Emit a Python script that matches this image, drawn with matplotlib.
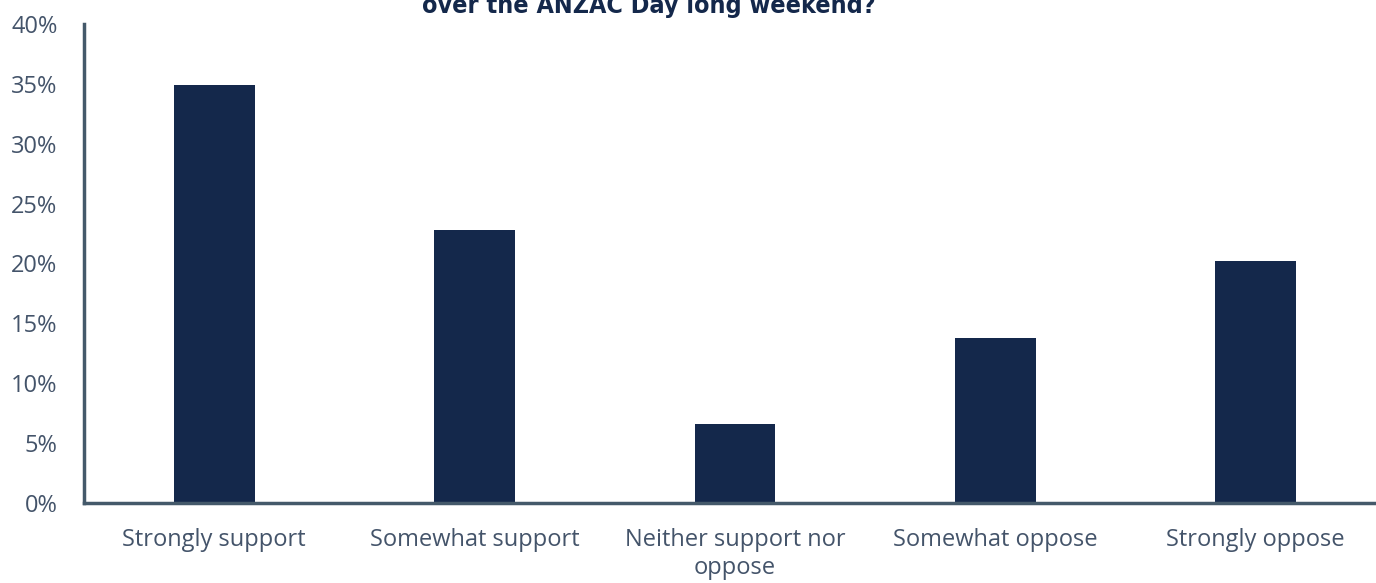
import matplotlib
matplotlib.use("Agg")
import matplotlib.pyplot as plt
from matplotlib.ticker import FuncFormatter

categories = ["Strongly support", "Somewhat support", "Neither support nor\noppose",
              "Somewhat oppose", "Strongly oppose"]
values = [34.9, 22.8, 6.6, 13.8, 20.2]

bar_color = "#14284b"
axis_color = "#44596a"
text_color = "#44546a"

plt.rcParams["font.family"] = ["Open Sans", "DejaVu Sans"]

fig = plt.figure(figsize=(13.76, 5.83), dpi=100)
ax = fig.add_axes([84 / 1376, 80 / 583, 1302 / 1376, 479 / 583])

x = range(len(categories))
ax.bar(x, values, width=0.31, color=bar_color, zorder=2)

ax.set_xlim(-0.5, 4.5)
ax.set_ylim(0, 40)
ax.set_yticks(range(0, 41, 5))
ax.yaxis.set_major_formatter(FuncFormatter(lambda v, p: f"{v:.0f}%"))
ax.set_xticks(list(x))
ax.set_xticklabels(categories)

ax.tick_params(axis="both", length=0, labelsize=17, colors=text_color)
ax.tick_params(axis="y", pad=19)
ax.tick_params(axis="x", pad=18)
for lbl in ax.get_xticklabels():
    lbl.set_linespacing(1.2)

for side in ["top", "right"]:
    ax.spines[side].set_visible(False)
for side in ["left", "bottom"]:
    ax.spines[side].set_color(axis_color)
    ax.spines[side].set_linewidth(2.5)

# title is partly cut off at the top, as in the original
fig.text(0.4717, 1 - 13 / 583, "over the ANZAC Day long weekend?", ha="center",
         va="baseline", fontsize=18, fontweight="bold", fontstretch="condensed",
         family="DejaVu Sans", color=bar_color)

fig.savefig("out.png", dpi=100)
